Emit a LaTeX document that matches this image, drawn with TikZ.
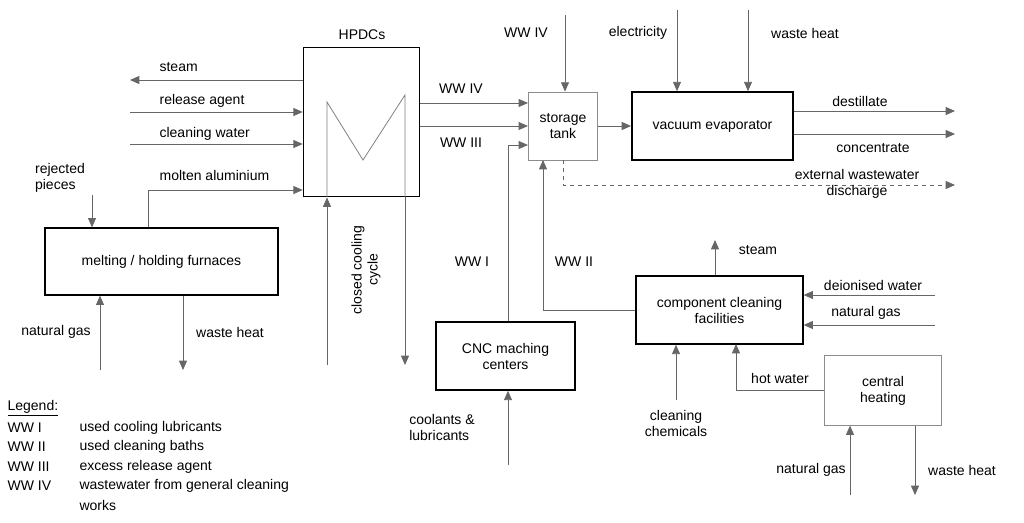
\documentclass[tikz,border=0pt]{standalone}
\usepackage{fontspec}
\setmainfont{Liberation Sans}
\usetikzlibrary{arrows.meta}
\begin{document}
\begin{tikzpicture}[
  x=0.75pt, y=-0.75pt,
  txt/.style={font=\fontsize{10.5}{12}\selectfont},
  box/.style={draw, line width=1.2pt, align=center, inner sep=0pt, txt},
  lightbox/.style={draw=black!45, line width=0.6pt, align=center, inner sep=0pt, txt},
  flow/.style={-{Triangle[length=7pt,width=6pt]}, draw=black!60, line width=0.6pt},
  lbl/.style={txt, align=left, inner sep=1pt},
  every node/.style={txt}
]
\useasboundingbox (0,0) rectangle (1024,522);

% units
\node[box, minimum width=87pt, minimum height=112pt] (hpdc) at (361.5,122) {};
\node at (362,35) {HPDCs};
\node[box, minimum width=175pt, minimum height=50pt] (furn) at (161.5,261.5) {melting / holding furnaces};
\node[lightbox, minimum width=52pt, minimum height=51pt] (tank) at (563,126) {storage\\tank};
\node[box, minimum width=121pt, minimum height=51pt] (evap) at (712.5,126) {vacuum evaporator};
\node[box, minimum width=125pt, minimum height=51pt] (clean) at (719.5,310) {component cleaning\\facilities};
\node[box, minimum width=104pt, minimum height=51pt] (cnc) at (505.5,356) {CNC maching\\centers};
\node[lightbox, minimum width=88pt, minimum height=52pt] (heat) at (883,390.5) {central\\heating};

% free ends
\coordinate (steamL) at (130,80);
\coordinate (relL) at (130,112);
\coordinate (cwL) at (130,144);
\coordinate (rejT) at (92,195);
\coordinate (ngF) at (100,370);
\coordinate (whF) at (183,370);
\coordinate (coolB) at (327,365);
\coordinate (coolE) at (405,365);
\coordinate (ww4T) at (565,15);
\coordinate (elT) at (677,10);
\coordinate (whT) at (748,10);
\coordinate (destR) at (955,111);
\coordinate (concR) at (955,134);
\coordinate (extR) at (955,185);
\coordinate (stmC) at (715,240);
\coordinate (deiR) at (935,295);
\coordinate (ngR) at (935,325);
\coordinate (chemB) at (676,400);
\coordinate (coolCNC) at (508,465);
\coordinate (ngH) at (850,495);
\coordinate (whH) at (915,495);

% HPDC connections
\draw[flow] (hpdc.west |- steamL) -- (steamL);
\node[lbl, anchor=west] at (158,67) {steam};
\draw[flow] (relL) -- (hpdc.west |- relL);
\node[lbl, anchor=west] at (158,101) {release agent};
\draw[flow] (cwL) -- (hpdc.west |- cwL);
\node[lbl, anchor=west] at (158,134) {cleaning water};
\draw[flow] (furn.north -| 148,0) |- (hpdc.west |- 0,190);
\node[lbl, anchor=west] at (158,175) {molten aluminium};
\draw[flow] (rejT) -- (rejT |- furn.north);
\node[lbl] at (60,178) {rejected\\pieces};
\draw[flow] (ngF) -- (ngF |- furn.south);
\node[lbl] at (56,332) {natural gas};
\draw[flow] (whF |- furn.south) -- (whF);
\node[lbl] at (230,332) {waste heat};

% cooling cycle
\draw[draw=black!50, line width=0.6pt] (327,197) -- (327,102) -- (363,160) -- (405,95) -- (405,197);
\draw[flow] (coolB) -- (coolB |- hpdc.south);
\draw[flow] (coolE |- hpdc.south) -- (coolE);
\node[rotate=90, align=center] at (366,270) {closed cooling\\cycle};

% storage tank
\draw[flow] (hpdc.east |- 0,103) -- (tank.west |- 0,103);
\node[lbl] at (461,89) {WW IV};
\draw[flow] (hpdc.east |- 0,126) -- (tank.west |- 0,126);
\node[lbl] at (461,143) {WW III};
\draw[flow] (cnc.north -| coolCNC) |- (tank.west |- 0,145);
\node[lbl] at (472,262) {WW I};
\draw[flow] (clean.west) -| (543,160);
\node[lbl] at (574,262) {WW II};
\draw[flow] (ww4T) -- (ww4T |- tank.north);
\node[lbl] at (526,33) {WW IV};
\draw[flow] (tank) -- (evap);
\draw[-{Triangle[length=7pt,width=6pt]}, draw=black!60, dashed, line width=0.6pt] (tank.south) |- (extR);
\node[lbl, align=center] at (857,184) {external wastewater\\discharge};

% evaporator
\draw[flow] (elT) -- (elT |- evap.north);
\node[lbl] at (638,33) {electricity};
\draw[flow] (whT) -- (whT |- evap.north);
\node[lbl] at (805,33) {waste heat};
\draw[flow] (evap.east |- destR) -- (destR);
\node[lbl] at (860,101) {destillate};
\draw[flow] (evap.east |- concR) -- (concR);
\node[lbl] at (873,148) {concentrate};

% component cleaning
\draw[flow] (stmC |- clean.north) -- (stmC);
\node[lbl] at (758,250) {steam};
\draw[flow] (deiR) -- (clean.east |- deiR);
\node[lbl] at (873,285) {deionised water};
\draw[flow] (ngR) -- (clean.east |- ngR);
\node[lbl] at (866,313) {natural gas};
\draw[flow] (chemB) -- (chemB |- clean.south);
\node[lbl, align=center] at (676,423) {cleaning\\chemicals};
\draw[flow] (heat.west |- 0,390) -| (736,344);
\node[lbl] at (780,378) {hot water};

% CNC and heating
\draw[flow] (coolCNC) -- (coolCNC |- cnc.south);
\node[lbl] at (442,427) {coolants \&\\lubricants};
\draw[flow] (ngH) -- (ngH |- heat.south);
\node[lbl] at (811,470) {natural gas};
\draw[flow] (whH |- heat.south) -- (whH);
\node[lbl] at (962,470) {waste heat};

% legend
\node[lbl, anchor=west] (leg) at (6,408) {\underline{Legend:}};
\foreach \k/\t [count=\i] in {WW I/used cooling lubricants, WW II/used cleaning baths,
  WW III/excess release agent, WW IV/wastewater from general cleaning}{
  \node[lbl, anchor=west] (leg\i) at (6,408+19.5*\i) {\k};
  \node[lbl, anchor=west] at (78,408+19.5*\i) {\t};
}
\node[lbl, anchor=west] at (78,505) {works};
\end{tikzpicture}
\end{document}
